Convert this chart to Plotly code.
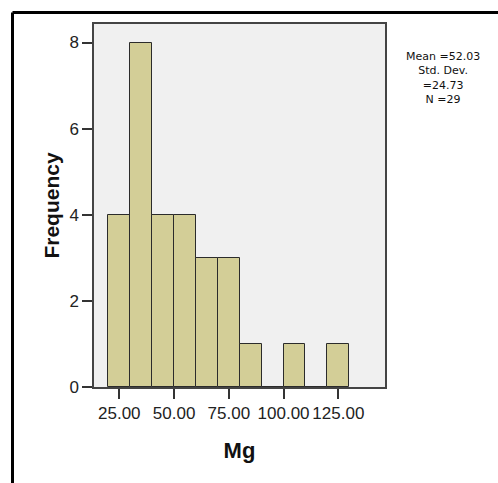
import plotly.graph_objects as go

# Histogram of Mg: bins of width 10 starting at 20
bin_centers = [25, 35, 45, 55, 65, 75, 85, 95, 105, 115, 125]
counts = [4, 8, 4, 4, 3, 3, 1, 0, 1, 0, 1]
x_tickvals = [25, 50, 75, 100, 125]
x_ticktext = ["25.00", "50.00", "75.00", "100.00", "125.00"]
y_tickvals = [0, 2, 4, 6, 8]
stats_lines = ["Mean =52.03", "Std. Dev.", "=24.73", "N =29"]

W, H = 498, 483
L, R, T, B = 94, 385, 24, 387

fig = go.Figure()
fig.add_trace(go.Bar(
    x=bin_centers, y=counts, width=10,
    marker=dict(color="#D3CE97", line=dict(color="#2b2b2b", width=1)),
    showlegend=False, hoverinfo="x+y",
))

axis_font = dict(family="Liberation Sans, Arial, sans-serif", size=17, color="#222222")
fig.update_layout(
    width=W, height=H,
    margin=dict(l=L, r=W - R, t=T, b=H - B, pad=0),
    paper_bgcolor="white", plot_bgcolor="#F0F0F0",
    bargap=0,
    xaxis=dict(range=[13.45, 146.3], tickvals=x_tickvals, ticktext=x_ticktext,
               ticks="outside", ticklen=10, tickwidth=1.5, tickcolor="#333333",
               showline=True, linecolor="#444444", linewidth=1.5, mirror=True,
               showgrid=False, zeroline=False, tickfont=axis_font,
               title=dict(text="<b>Mg</b>", font=dict(family="Liberation Sans, Arial, sans-serif", size=22, color="#111111"), standoff=20)),
    yaxis=dict(range=[0, 8.43], tickvals=y_tickvals,
               ticks="outside", ticklen=10, tickwidth=1.5, tickcolor="#333333",
               showline=True, linecolor="#444444", linewidth=1.5, mirror=True,
               showgrid=False, zeroline=False, tickfont=axis_font,
               title=dict(text="<b>Frequency</b>", font=dict(family="Liberation Sans, Arial, sans-serif", size=21, color="#111111"), standoff=4)),
)

pw, ph = R - L, B - T
def px_x(px):
    return (px - L) / pw
def px_y(py):
    return (B - py) / ph

# outer frame (left and top black lines)
fig.add_shape(type="line", xref="paper", yref="paper",
              x0=px_x(12.5), x1=px_x(W + 5), y0=px_y(12.5), y1=px_y(12.5),
              line=dict(color="black", width=3))
fig.add_shape(type="line", xref="paper", yref="paper",
              x0=px_x(12.5), x1=px_x(12.5), y0=px_y(12.5), y1=px_y(H + 5),
              line=dict(color="black", width=3))

fig.add_annotation(text="<br>".join(stats_lines), xref="paper", yref="paper",
                   x=px_x(443), y=px_y(78), showarrow=False,
                   xanchor="center", yanchor="middle", align="center",
                   font=dict(family="DejaVu Sans, sans-serif", size=11, color="#111111"))

fig.write_html("out.html")
